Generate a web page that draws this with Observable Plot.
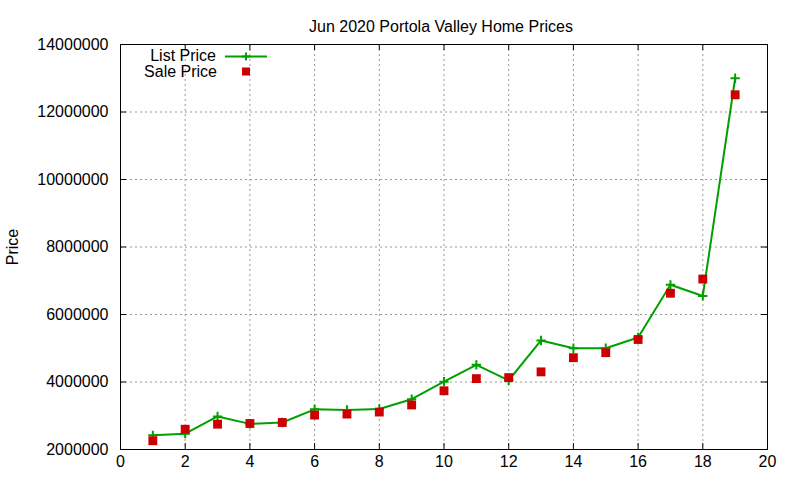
<!DOCTYPE html>
<html>
<head>
<meta charset="utf-8">
<script src="https://cdn.jsdelivr.net/npm/d3@7"></script>
<script src="https://cdn.jsdelivr.net/npm/@observablehq/plot@0.6"></script>
<style>
  html, body { margin: 0; padding: 0; background: #fff; }
  #wrap { position: relative; width: 800px; height: 480px; font-family: "Liberation Sans", Arial, sans-serif; }
  #legend { position: absolute; left: 0; top: 0; width: 800px; height: 480px; pointer-events: none; }
</style>
</head>
<body>
<div id="wrap"></div>
<script>
const homes = [1,2,3,4,5,6,7,8,9,10,11,12,13,14,15,16,17,18,19];
const listPrice = [2420000,2470000,2980000,2760000,2800000,3190000,3170000,3200000,3490000,4010000,4510000,4050000,5230000,5000000,5000000,5320000,6880000,6550000,13000000];
const salePrice = [2260000,2600000,2750000,2770000,2800000,3020000,3050000,3110000,3320000,3740000,4100000,4130000,4300000,4720000,4870000,5260000,6630000,7050000,12510000];
const xTicks = [0,2,4,6,8,10,12,14,16,18,20];
const yTicks = [2000000,4000000,6000000,8000000,10000000,12000000,14000000];
const title = "Jun 2020 Portola Valley Home Prices";
const yLabel = "Price";
const seriesNames = ["List Price", "Sale Price"];
const green = "#00a000";
const red = "#cc0000";

const listData = homes.map((h, i) => ({x: h, y: listPrice[i]}));
const saleData = homes.map((h, i) => ({x: h, y: salePrice[i]}));

const W = 800, H = 480, mL = 120, mR = 33, mT = 44, mB = 31;
const pw = W - mL - mR, ph = H - mT - mB;

const chart = Plot.plot({
  width: W, height: H,
  marginLeft: mL, marginRight: mR, marginTop: mT, marginBottom: mB,
  style: {fontFamily: "'Liberation Sans', Arial, sans-serif", fontSize: "16px", color: "#000", background: "#fff"},
  x: {domain: [0, 20]},
  y: {domain: [2000000, 14000000]},
  marks: [
    Plot.gridX(xTicks.slice(1, -1), {stroke: "#999", strokeOpacity: 1, strokeDasharray: "2,3", strokeWidth: 1}),
    Plot.gridY(yTicks.slice(1, -1), {stroke: "#999", strokeOpacity: 1, strokeDasharray: "2,3", strokeWidth: 1}),
    Plot.axisX(xTicks, {tickSize: 0, tickPadding: 6, fontSize: 16, label: null, tickFormat: d => String(d)}),
    Plot.axisY(yTicks, {tickSize: 0, tickPadding: 12, fontSize: 16, tickFormat: d => String(d), label: yLabel, labelAnchor: "center", labelArrow: "none", labelOffset: 114}),
    // inward ticks on all four sides
    Plot.tickY(yTicks, {y: d => d, stroke: "#000", insetRight: pw - 6}),
    Plot.tickY(yTicks, {y: d => d, stroke: "#000", insetLeft: pw - 6}),
    Plot.tickX(xTicks, {x: d => d, stroke: "#000", insetTop: ph - 6}),
    Plot.tickX(xTicks, {x: d => d, stroke: "#000", insetBottom: ph - 6}),
    Plot.frame({stroke: "#000", strokeWidth: 1}),
    Plot.line(listData, {x: "x", y: "y", stroke: green, strokeWidth: 2}),
    Plot.dot(listData, {x: "x", y: "y", symbol: "plus", r: 3.1, stroke: green, strokeWidth: 2}),
    Plot.dot(saleData, {x: "x", y: "y", symbol: "square", r: 5, fill: red, stroke: "none"}),
    Plot.text([title], {frameAnchor: "top", dx: -3, dy: -24, fontSize: 16, fill: "#000"})
  ]
});

const wrap = document.getElementById("wrap");
wrap.appendChild(chart);

// legend overlay
const ns = "http://www.w3.org/2000/svg";
const leg = document.createElementNS(ns, "svg");
leg.setAttribute("id", "legend");
leg.setAttribute("width", W);
leg.setAttribute("height", H);
const mk = (tag, attrs, text) => {
  const e = document.createElementNS(ns, tag);
  for (const k in attrs) e.setAttribute(k, attrs[k]);
  if (text) e.textContent = text;
  leg.appendChild(e);
  return e;
};
const legStyle = "font-family:'Liberation Sans', Arial, sans-serif;font-size:16px";
mk("text", {x: 216, y: 61, "text-anchor": "end", style: legStyle}, seriesNames[0]);
mk("line", {x1: 225, x2: 267, y1: 56.5, y2: 56.5, stroke: green, "stroke-width": 2});
mk("line", {x1: 242, x2: 250, y1: 56.5, y2: 56.5, stroke: green, "stroke-width": 2});
mk("line", {x1: 246, x2: 246, y1: 52.5, y2: 60.5, stroke: green, "stroke-width": 2});
mk("text", {x: 217, y: 77, "text-anchor": "end", style: legStyle}, seriesNames[1]);
mk("rect", {x: 242, y: 67.5, width: 8, height: 8, fill: red});
wrap.appendChild(leg);
</script>
</body>
</html>
